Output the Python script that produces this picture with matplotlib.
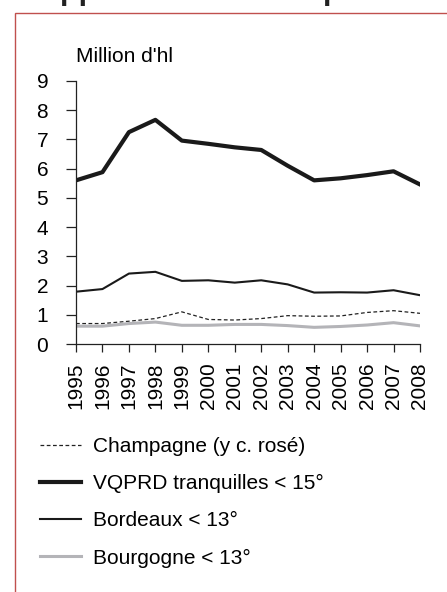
import matplotlib
matplotlib.use("Agg")
import matplotlib.pyplot as plt
from matplotlib.patches import Rectangle

plt.rcParams['font.family'] = ['Liberation Sans', 'DejaVu Sans']

# data (million hl)
years = list(range(1995, 2009))
champagne = [0.70, 0.70, 0.78, 0.87, 1.10, 0.84, 0.82, 0.87, 0.97, 0.95, 0.96, 1.08, 1.14, 1.05]
vqprd = [5.60, 5.88, 7.25, 7.67, 6.96, 6.85, 6.73, 6.64, 6.10, 5.60, 5.67, 5.78, 5.91, 5.46]
bordeaux = [1.79, 1.88, 2.41, 2.47, 2.16, 2.18, 2.10, 2.18, 2.04, 1.76, 1.77, 1.76, 1.84, 1.67]
bourgogne = [0.61, 0.61, 0.70, 0.75, 0.64, 0.64, 0.67, 0.67, 0.63, 0.57, 0.60, 0.65, 0.73, 0.62]

labels = ['Champagne (y c. rosé)', 'VQPRD tranquilles < 15°',
          'Bordeaux < 13°', 'Bourgogne < 13°']

W, H = 447, 592
fig = plt.figure(figsize=(W / 100, H / 100), dpi=100)

# red frame around the panel (runs off right and bottom edges)
frame = Rectangle((15 / W, -0.05), 1.2, 1 - 13 / H + 0.05, transform=fig.transFigure,
                  fill=False, edgecolor='#c0504d', linewidth=1.0)
fig.add_artist(frame)

# cropped title, only descenders remain visible
fig.text(38 / W, 1 + 1.5 / H, 'Appellations AOC : production', fontsize=22,
         fontweight='bold', va='baseline', ha='left', color='#222222')

ax = fig.add_axes([76 / W, 1 - 344 / H, (420 - 76) / W, (344 - 81) / H])

l1, = ax.plot(years, champagne, color='#222222', lw=0.9, ls=(0, (3, 2)))
l2, = ax.plot(years, vqprd, color='#1a1a1a', lw=3.0)
l3, = ax.plot(years, bordeaux, color='#1a1a1a', lw=1.5)
l4, = ax.plot(years, bourgogne, color='#b4b4b8', lw=2.2)

ax.set_xlim(1995, 2008)
ax.set_ylim(0, 9)
ax.set_yticks(range(0, 10))
ax.set_xticks(years)
ax.set_xticklabels([str(y) for y in years], rotation=90)

for side in ['top', 'right']:
    ax.spines[side].set_visible(False)
for side in ['left', 'bottom']:
    ax.spines[side].set_linewidth(0.9)
    ax.spines[side].set_color('#222222')

ax.yaxis.set_tick_params(labelsize=15, length=7, width=0.9, color='#222222',
                         direction='out', pad=13)
ax.xaxis.set_tick_params(labelsize=15, length=6, width=0.9, color='#222222',
                         direction='out', pad=7)

fig.text(76 / W, 1 - 57 / H, "Million d'hl", fontsize=15, va='center', ha='left')

fig.legend([l1, l2, l3, l4], labels, loc='upper left',
           bbox_to_anchor=(40 / W, 1 - 437 / H), frameon=False, fontsize=15,
           handlelength=1.95, handletextpad=0.58, labelspacing=0.87,
           borderpad=0, borderaxespad=0)

fig.savefig('out.png', dpi=100)
